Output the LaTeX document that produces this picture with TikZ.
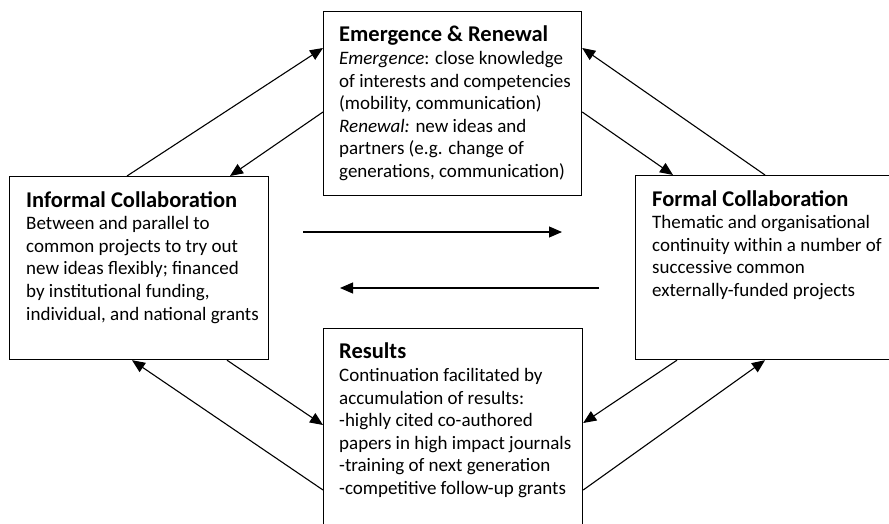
\documentclass[tikz,border=0pt]{standalone}
\usepackage{fontspec}
\setmainfont{Carlito}
\usetikzlibrary{arrows.meta,calc}
\newcommand{\boxtitle}[1]{{\fontsize{22.5}{22.6}\selectfont\bfseries #1}}
\tikzset{
  box/.style={draw,line width=1.2pt,anchor=north west,inner sep=0pt},
  boxtext/.style={anchor=north west,inner sep=0pt,align=left,font=\fontsize{19}{22.6}\selectfont},
  flow/.style={line width=1.1pt,-{Triangle[length=13pt,width=11pt]}}
}
\begin{document}
\begin{tikzpicture}[x=1pt,y=-1pt]
\useasboundingbox (0,0) rectangle (889,524);
\clip (0,0) rectangle (889,524);
\node[box,minimum width=258pt,minimum height=184pt] (emerge)   at (323,11)  {};
\node[box,minimum width=259pt,minimum height=183pt] (informal) at (9,176)   {};
\node[box,minimum width=280pt,minimum height=184pt] (formal)   at (635,175) {};
\node[box,minimum width=259pt,minimum height=220pt] (results)  at (323,328) {};
\node[boxtext] (emergetxt) at ([shift={(16pt,-15pt)}]emerge.north west)
  {\boxtitle{Emergence \& Renewal}\\
   \textit{Emergence}: close knowledge\\
   of interests and competencies\\
   (mobility, communication)\\
   \textit{Renewal:} new ideas and\\
   partners (e.g. change of\\
   generations, communication)};
\node[boxtext] (informaltxt) at ([shift={(17pt,-15pt)}]informal.north west)
  {\boxtitle{Informal Collaboration}\\
   Between and parallel to\\
   common projects to try out\\
   new ideas flexibly; financed\\
   by institutional funding,\\
   individual, and national grants};
\node[boxtext] (formaltxt) at ([shift={(17pt,-15pt)}]formal.north west)
  {\boxtitle{Formal Collaboration}\\
   Thematic and organisational\\
   continuity within a number of\\
   successive common\\
   externally-funded projects};
\node[boxtext] (resultstxt) at ([shift={(16pt,-15pt)}]results.north west)
  {\boxtitle{Results}\\
   Continuation facilitated by\\
   accumulation of results:\\
   -highly cited co-authored\\
   papers in high impact journals\\
   -training of next generation\\
   -competitive follow-up grants};
\coordinate (fwdA) at (303,232);
\coordinate (fwdB) at (562,232);
\coordinate (backA) at (599,288);
\coordinate (backB) at (340,288);
\draw[flow] ([xshift=118pt]informal.north west) -- ([yshift=-37pt]emerge.north west);
\draw[flow] ([yshift=-101pt]emerge.north west) -- ([xshift=221pt]informal.north west);
\draw[flow] ([xshift=130pt]formal.north west) -- ([yshift=-37pt]emerge.north east);
\draw[flow] ([yshift=-101pt]emerge.north east) -- ([xshift=38pt]formal.north west);
\draw[flow] (fwdA) -- (fwdB);
\draw[flow] (backA) -- (backB);
\draw[flow] ([xshift=218pt]informal.south west) -- ([yshift=-97pt]results.north west);
\draw[flow] ([yshift=-162pt]results.north west) -- ([xshift=123pt]informal.south west);
\draw[flow] ([xshift=42pt]formal.south west) -- ([yshift=-95pt]results.north east);
\draw[flow] ([yshift=-162pt]results.north east) -- ([xshift=130pt]formal.south west);
\end{tikzpicture}
\end{document}
